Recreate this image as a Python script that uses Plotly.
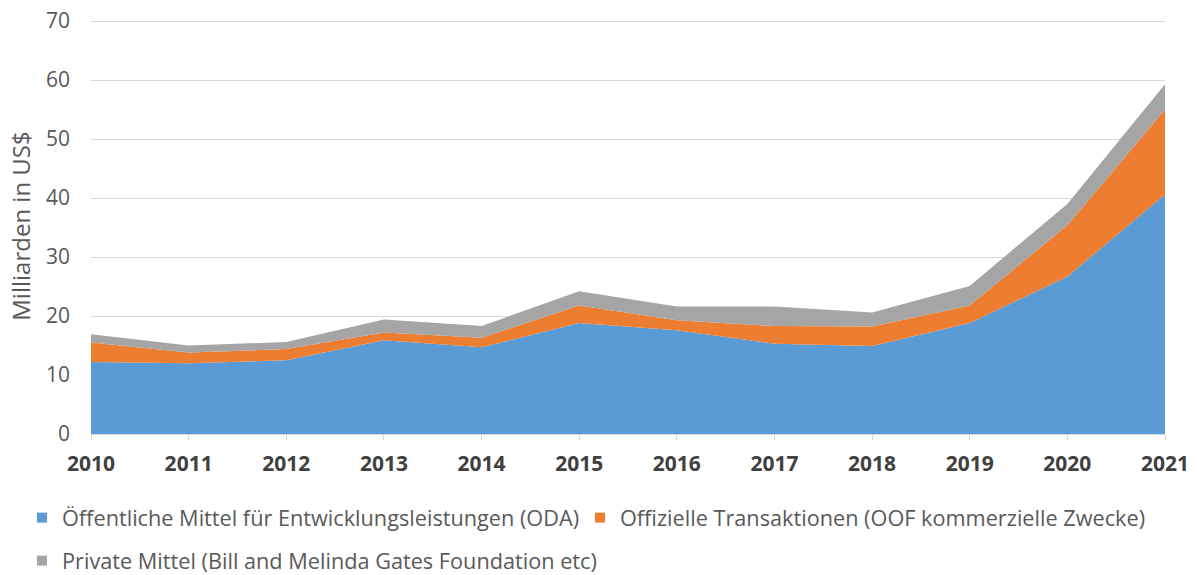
import plotly.graph_objects as go

years = [2010, 2011, 2012, 2013, 2014, 2015, 2016, 2017, 2018, 2019, 2020, 2021]
oda = [12.2, 12.0, 12.5, 15.9, 14.7, 18.8, 17.6, 15.3, 14.9, 18.8, 26.7, 40.6]
oof = [3.3, 1.8, 1.9, 1.3, 1.6, 3.0, 1.7, 3.0, 3.3, 3.0, 8.7, 14.4]
private = [1.4, 1.2, 1.2, 2.2, 2.0, 2.4, 2.3, 3.3, 2.4, 3.3, 3.6, 4.3]
y_ticks = [0, 10, 20, 30, 40, 50, 60, 70]

names = [
    "Öffentliche Mittel für Entwicklungsleistungen (ODA)",
    "Offizielle Transaktionen (OOF kommerzielle Zwecke)",
    "Private Mittel (Bill and Melinda Gates Foundation etc)",
]
colors = ["#5B9BD5", "#ED7D31", "#A5A5A5"]
series = [oda, oof, private]
legends = ["legend", "legend3", "legend2"]

W, H = 1197, 575
# plot area in page pixels: x 91..1165, y 18..434 (70 sits at 21)
L = 91
T = 18
R = W - 1165
B = H - 434
pw = W - L - R
ph = H - T - B
y_top = 70 * ph / (ph - 3)

fig = go.Figure()
for name, vals, col in zip(names, series, colors):
    fig.add_trace(go.Scatter(
        x=years, y=vals, name=name, mode="none", stackgroup="one",
        fillcolor=col, line=dict(width=0), showlegend=False,
    ))
for name, col, lg in zip(names, colors, legends):
    fig.add_trace(go.Scatter(
        x=[None], y=[None], name=name, mode="markers",
        marker=dict(symbol="square", size=10, color=col),
        legend=lg, showlegend=True,
    ))

font_fam = "Open Sans, Noto Sans, DejaVu Sans, sans-serif"

def ypix(py):
    return -(py - (H - B)) / ph

def xpix(px):
    return (px - L) / pw

leg_common = dict(
    orientation="h", xanchor="left", yanchor="middle",
    font=dict(size=21.7, color="#595959"), bgcolor="rgba(0,0,0,0)",
)

fig.update_layout(
    width=W, height=H,
    margin=dict(l=L, r=R, t=T, b=B, autoexpand=False),
    plot_bgcolor="white", paper_bgcolor="white",
    font=dict(family=font_fam, color="#595959", size=21),
    xaxis=dict(
        range=[2010, 2021], tickmode="array", tickvals=years,
        ticktext=[f"<b>{y}</b>" for y in years],
        showgrid=False, showline=True, linecolor="#D9D9D9", linewidth=1,
        ticks="outside", ticklen=5, tickcolor="#D9D9D9",
        tickfont=dict(size=21, color="#404040"), ticklabelstandoff=6,
        zeroline=False, automargin=False, ticklabeloverflow="allow",
    ),
    yaxis=dict(
        range=[0, y_top], tickmode="array", tickvals=y_ticks,
        showgrid=True, gridcolor="#D9D9D9",
        gridwidth=1, zeroline=False, showline=False, automargin=False,
        ticklabeloverflow="allow",
        tickfont=dict(size=21, color="#595959"), ticklabelstandoff=20,
        title=dict(text="Milliarden in US$", font=dict(size=24, color="#595959"), standoff=8),
    ),
    legend=dict(x=xpix(22), y=ypix(518), **leg_common),
    legend3=dict(x=xpix(580), y=ypix(518), **leg_common),
    legend2=dict(x=xpix(22), y=ypix(561), **leg_common),
)

fig.write_html(
    "out.html",
    config={"displayModeBar": False},
    post_script="document.body.style.margin='0px';",
)
